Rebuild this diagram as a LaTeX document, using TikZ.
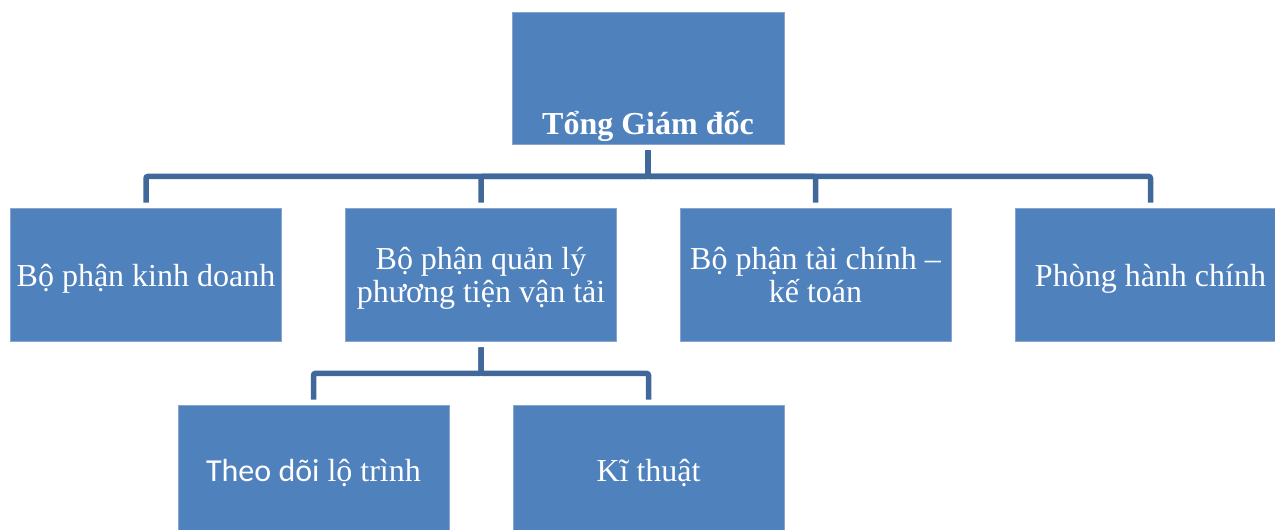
\documentclass[tikz,border=0pt]{standalone}
\usepackage{fontspec}
\setmainfont{Liberation Serif}
\newfontfamily\calibri{Carlito}
\definecolor{boxblue}{RGB}{79,129,189}
\definecolor{linkblue}{RGB}{64,104,155}
\definecolor{edgeblue}{RGB}{135,165,208}
\begin{document}
\begin{tikzpicture}[x=1pt,y=-1pt,
  orgbox/.style={rectangle, fill=boxblue, draw=edgeblue, line width=0.8pt,
    minimum width=271pt, minimum height=133pt, inner sep=0pt, text=white,
    align=center, font=\fontsize{32}{33}\selectfont,
    text height=28pt, text depth=5pt},
  twoline/.style={text height=61pt, text depth=5pt},
  lowrow/.style={text depth=9pt},
  conn/.style={draw=linkblue, line width=5.5pt, rounded corners=2pt}]
\useasboundingbox (0,0) rectangle (1275,530);
\clip (0,0) rectangle (1275,530);
% boxes
\node[orgbox, minimum width=272pt, minimum height=132pt] (ceo) at (648,78) {};
\node[anchor=base, text=white, inner sep=0pt, font=\fontsize{32}{33}\selectfont\bfseries] (ceotext) at (648,134) {Tổng Giám đốc};
\node[orgbox] (b1) at (146,274.5) {Bộ phận kinh doanh};
\node[orgbox, twoline] (b2) at (481,274.5) {Bộ phận quản lý\\phương tiện vận tải};
\node[orgbox, twoline] (b3) at (815.5,274.5) {Bộ phận tài chính –\\kế toán};
\node[orgbox] (b4) at (1150.5,274.5) {Phòng hành chính};
\node[orgbox, lowrow] (c1) at (313.5,471.5) {{\calibri Theo dõi} lộ trình};
\node[orgbox, lowrow] (c2) at (648.5,471.5) {Kĩ thuật};
% connectors
\draw[conn] ([yshift=-6pt]ceo.south) -- ++(0,26) -| ([yshift=5pt]b1.north);
\draw[conn] ([yshift=-6pt]ceo.south) -- ++(0,26) -| ([yshift=5pt]b2.north);
\draw[conn] ([yshift=-6pt]ceo.south) -- ++(0,26) -| ([yshift=5pt]b3.north);
\draw[conn] ([yshift=-6pt]ceo.south) -- ++(0,26) -| ([yshift=5pt]b4.north);
\draw[conn] ([yshift=-6pt]b2.south) -- ++(0,26) -| ([yshift=5pt]c1.north);
\draw[conn] ([yshift=-6pt]b2.south) -- ++(0,26) -| ([yshift=5pt]c2.north);
\end{tikzpicture}
\end{document}
